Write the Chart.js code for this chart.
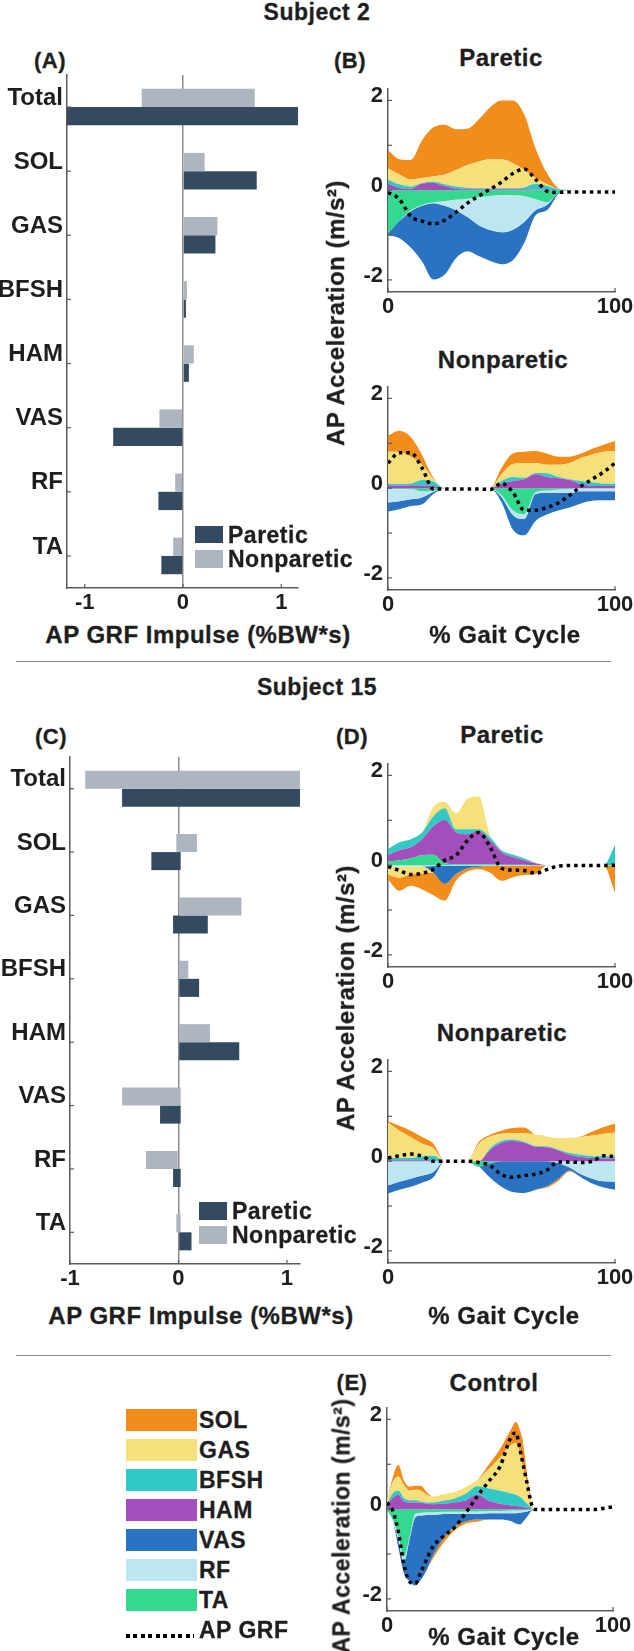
<!DOCTYPE html>
<html>
<head>
<meta charset="utf-8">
<script src="https://cdn.jsdelivr.net/npm/chart.js@4.4.1/dist/chart.umd.min.js"></script>
<style>
  body { margin: 0; background: #fff; }
  #page { position: relative; width: 634px; height: 1651px; overflow: hidden;
          font-family: "Liberation Sans", Arial, sans-serif; font-weight: bold; color: #1e1e1e; }
  #page canvas { position: absolute; }
  .t, .v, .l { position: absolute; white-space: nowrap; letter-spacing: 0.5px; -webkit-text-stroke: 0.3px #1e1e1e; }
  .t { transform: translate(-50%, -50%); }
  .v { transform: translate(-50%, -50%) rotate(-90deg); }
  .l { transform: translateY(-50%); }
  .sep { position: absolute; height: 0; border-top: 1.5px solid #8c8c8c; }
  .sw { position: absolute; }
</style>
</head>
<body>
<div id="page"></div>
<script>
// ---------- data ----------
// horizontal bars: AP GRF impulse (%BW*s), each bar is [low, high]
const barCats = ['Total', 'SOL', 'GAS', 'BFSH', 'HAM', 'VAS', 'RF', 'TA'];
const s2ParLo  = [-1.18, 0, 0, 0, 0, -0.71, -0.25, -0.22];
const s2ParHi  = [1.17, 0.75, 0.33, 0.03, 0.06, 0, 0, 0];
const s2NonLo  = [-0.42, 0, 0, 0, 0, -0.24, -0.08, -0.10];
const s2NonHi  = [0.73, 0.22, 0.35, 0.04, 0.11, 0, 0, 0];
const s15ParLo = [-0.52, -0.25, -0.05, 0, 0, -0.17, -0.05, 0];
const s15ParHi = [1.12, 0.02, 0.27, 0.19, 0.56, 0.02, 0.02, 0.12];
const s15NonLo = [-0.86, -0.02, 0, 0, 0, -0.52, -0.30, -0.02];
const s15NonHi = [1.12, 0.17, 0.58, 0.09, 0.29, 0.02, 0, 0.02];

// stacked areas: AP acceleration (m/s^2) vs % gait cycle
const gait  = [0, 5, 10, 15, 20, 25, 30, 35, 40, 45, 50, 55, 60, 65, 70, 75, 80, 85, 90, 95, 100];
const ctrlX = [0, 2.5, 5, 7.5, 10, 12.5, 15, 17.5, 20, 25, 30, 35, 40, 45, 50, 55, 57, 59, 60, 62, 64, 65, 70, 80, 90, 100];

// Subject 2 paretic
const s2pSOL  = [.40,.34,.43,.84,1.09,1.11,.91,.81,.94,1.16,1.31,1.40,1.24,.66,.25,.02,0,0,0,0,0];
const s2pGAS  = [.25,.22,.16,.11,.12,.22,.37,.51,.60,.65,.65,.56,.39,.13,.03,.01,0,0,0,0,0];
const s2pBFSH = [.09,.08,.05,.01,.03,.04,.05,.03,.02,.02,.02,.02,.04,.13,.09,.02,0,0,0,0,0];
const s2pHAM  = [.15,.05,.03,.15,.16,.09,.03,.02,.02,.02,.02,.02,.02,.01,.01,0,0,0,0,0,0];
const s2pVAS  = [-.04,-.38,-.81,-1.24,-1.70,-1.53,-1.06,-.76,-.69,-.69,-.71,-.68,-.47,-.11,-.12,-.02,0,0,0,0,0];
const s2pRF   = [0,0,-.02,-.02,-.02,-.11,-.24,-.41,-.63,-.76,-.83,-.77,-.58,-.25,-.06,0,0,0,0,0,0];
const s2pTA   = [-.96,-.69,-.45,-.33,-.27,-.24,-.21,-.19,-.15,-.13,-.11,-.11,-.13,-.20,-.27,-.07,0,0,0,0,0];
const s2pGRF  = [-.05,-.20,-.58,-.69,-.75,-.67,-.49,-.29,-.13,.02,.18,.37,.47,.24,-.02,-.05,-.04,-.04,-.04,-.04,-.04];

// Subject 2 nonparetic
const s2nSOL  = [.36,.47,.44,.22,.03,0,0,0,0,0,.14,.23,.25,.27,.25,.18,.14,.10,.13,.16,.22];
const s2nGAS  = [.71,.72,.60,.34,.05,0,0,0,0,0,.15,.29,.33,.22,.19,.27,.36,.51,.62,.71,.73];
const s2nBFSH = [.04,.03,.04,.12,.10,0,0,0,0,0,.06,.09,.03,.03,.08,.03,.02,.07,.08,.05,.05];
const s2nHAM  = [.06,.06,.06,.06,.05,0,0,0,0,0,.10,.16,.20,.31,.25,.22,.18,.09,.05,.05,.05];
const s2nVAS  = [-.20,-.18,-.15,-.15,-.05,0,0,0,0,0,-.11,-.32,-.36,-.60,-.49,-.40,-.32,-.27,-.21,-.20,-.20];
const s2nRF   = [-.30,-.27,-.23,-.14,-.03,0,0,0,0,0,-.04,-.11,-.11,-.04,-.05,-.07,-.09,-.07,-.07,-.07,-.07];
const s2nTA   = [-.02,-.02,-.02,-.07,-.05,0,0,0,0,0,-.16,-.49,-.58,-.09,-.05,-.03,-.02,0,0,0,0];
const s2nGRF  = [.56,.79,.79,.45,-.02,-.02,-.02,-.02,-.02,-.03,.11,-.09,-.49,-.49,-.43,-.33,-.16,.04,.20,.36,.56];

// Subject 15 paretic
const s15pSOL  = [-.11,-.29,-.25,-.36,-.50,-.37,-.14,-.07,-.05,-.15,-.33,-.25,-.20,-.18,0,0,0,0,0,0,-.60];
const s15pGAS  = [-.18,-.25,-.18,-.15,.21,.14,.36,.68,.73,.04,0,.02,.01,.01,0,0,0,0,0,0,0];
const s15pBFSH = [.14,.18,.18,.15,.22,.26,.07,.11,.04,.07,.04,.05,.04,.01,0,0,0,0,0,0,.45];
const s15pHAM  = [.14,.22,.25,.36,.64,.97,.71,.67,.74,.53,.28,.17,.10,.04,0,0,0,0,0,0,0];
const s15pVAS  = [0,0,0,0,-.15,-.40,-.18,-.05,-.02,0,0,0,0,0,0,0,0,0,0,0,0];
const s15pRF   = [-.03,-.03,-.03,-.03,-.02,-.02,-.02,-.02,-.02,-.02,-.02,-.02,-.02,-.02,-.01,-.01,-.01,-.01,-.01,-.01,-.01];
const s15pTA   = [.08,.11,.15,.22,.23,.04,.02,.02,.02,.02,.01,.01,.01,0,0,0,0,0,0,0,0];
const s15pGRF  = [-.03,-.12,-.21,-.18,-.09,.11,.22,.55,.73,.40,-.07,-.11,-.12,-.18,-.10,-.02,-.01,-.01,-.01,-.01,0];

// Subject 15 nonparetic
const s15nSOL  = [.03,.11,.14,.15,.10,0,0,0,.04,.04,.07,.12,.13,0,-.03,-.04,-.02,.01,.09,.15,.20];
const s15nGAS  = [.79,.61,.47,.28,.17,0,0,0,.39,.26,.16,.14,.19,.25,.22,.25,.34,.40,.46,.50,.53];
const s15nBFSH = [.05,.05,.05,.09,.10,0,0,0,0,.04,.04,.03,.02,.02,.02,.02,.04,.05,.04,.05,.05];
const s15nHAM  = [.02,.02,.02,.02,.02,0,0,0,0,.25,.41,.45,.41,.32,.31,.24,.14,.09,.07,.06,.06];
const s15nVAS  = [-.18,-.18,-.18,-.16,-.12,0,0,0,0,-.32,-.57,-.69,-.71,-.64,-.56,-.36,-.07,-.07,-.11,-.14,-.18];
const s15nRF   = [-.54,-.46,-.39,-.32,-.24,0,0,0,0,0,0,0,0,0,0,-.04,-.14,-.29,-.39,-.45,-.46];
const s15nTA   = [0,0,0,0,0,0,0,0,-.12,-.05,0,0,0,0,0,0,0,0,0,0,0];
const s15nGRF  = [.07,.12,.16,.11,0,0,0,0,-.03,-.10,-.30,-.36,-.32,-.29,-.20,-.02,-.02,-.03,0,.12,.10];

// Control (on ctrlX)
const ctrlSOL  = [0,.10,.26,.10,.09,.09,.11,.06,-.06,-.10,-.08,-.05,-.05,.10,.19,.35,.47,.53,.58,.23,.03,0,0,0,0,0];
const ctrlGAS  = [.07,.25,.32,.29,.21,.23,.24,.17,.13,.14,.14,.15,.14,.43,.74,1.09,1.15,.93,.74,.42,.06,0,0,0,0,0];
const ctrlBFSH = [.03,.10,.09,.08,.05,.05,.03,.03,.04,.07,.09,.15,.19,.27,.29,.27,.25,.21,.17,.09,.02,0,0,0,0,0];
const ctrlHAM  = [.09,.25,.32,.17,.15,.15,.14,.12,.11,.12,.15,.20,.32,.19,.12,.08,.07,.06,.05,.03,.01,0,0,0,0,0];
const ctrlVAS  = [0,0,-.16,-.26,-.94,-1.52,-1.43,-1.23,-.94,-.54,-.28,-.17,-.13,-.14,-.14,-.18,-.23,-.26,-.22,-.12,-.01,0,0,0,0,0];
const ctrlRF   = [0,-.02,-.10,-.10,-.05,-.08,-.06,-.06,-.06,-.05,-.05,-.05,-.05,-.05,-.05,-.06,-.06,-.05,-.04,-.03,-.01,0,0,0,0,0];
const ctrlTA   = [-.02,-.23,-.59,-1.07,-.62,-.10,-.08,-.07,-.07,-.06,-.06,-.05,-.05,-.04,-.04,-.03,-.03,-.03,-.03,-.02,-.01,0,0,0,0,0];
const ctrlGRF  = [.15,-.03,-.50,-1.23,-1.62,-1.66,-1.40,-1.12,-.86,-.60,-.40,-.07,.29,.62,.95,1.62,1.70,1.29,1.05,.57,.10,0,-.01,-.01,-.01,.05];

// ---------- styles ----------
const stackOrder = ['TA', 'RF', 'VAS', 'HAM', 'BFSH', 'GAS', 'SOL']; // from zero outward
const legendOrder = ['SOL', 'GAS', 'BFSH', 'HAM', 'VAS', 'RF', 'TA'];
const muscleColor = {
  SOL: '#F28C1B', GAS: '#F6E07C', BFSH: '#32C8C6', HAM: '#A34FBB',
  VAS: '#2A72C2', RF: '#BCE6F0', TA: '#32D98E'
};
const parColor = '#344A60';
const nonColor = '#ADB6C0';
const axisColor = '#5a5a5a';
const textColor = '#1e1e1e';

Chart.defaults.font.family = '"Liberation Sans", Arial, sans-serif';
Chart.defaults.font.weight = 'bold';
Chart.defaults.font.size = 22;
Chart.defaults.color = textColor;

const page = document.getElementById('page');

// small inward tick marks on both axes
const inTicks = {
  id: 'inTicks',
  afterDraw(chart) {
    const { ctx, chartArea: a } = chart;
    ctx.save();
    ctx.strokeStyle = axisColor;
    ctx.lineWidth = 1.2;
    ['x', 'y'].forEach(id => {
      const s = chart.scales[id];
      s.ticks.forEach((t, i) => {
        const p = s.getPixelForTick(i);
        ctx.beginPath();
        if (id === 'x') { ctx.moveTo(p, a.bottom); ctx.lineTo(p, a.bottom - 4); }
        else { ctx.moveTo(a.left, p); ctx.lineTo(a.left + 4, p); }
        ctx.stroke();
      });
    });
    ctx.restore();
  }
};

function canvasAt(left, top, w, h) {
  const c = document.createElement('canvas');
  c.width = w; c.height = h;
  c.style.left = left + 'px'; c.style.top = top + 'px';
  page.appendChild(c);
  return c;
}

function text(str, x, y, size, cls) {
  const d = document.createElement('div');
  d.className = cls || 't';
  d.style.left = x + 'px'; d.style.top = y + 'px'; d.style.fontSize = size + 'px';
  d.textContent = str;
  page.appendChild(d);
  return d;
}

function box(x, y, w, h, color) {
  const d = document.createElement('div');
  d.className = 'sw';
  d.style.left = x + 'px'; d.style.top = y + 'px';
  d.style.width = w + 'px'; d.style.height = h + 'px';
  d.style.background = color;
  page.appendChild(d);
  return d;
}

function separator(y) {
  const d = document.createElement('div');
  d.className = 'sep';
  d.style.left = '16px'; d.style.top = y + 'px'; d.style.width = '595px';
  page.appendChild(d);
}

function pairs(lo, hi) { return lo.map((v, i) => [v, hi[i]]); }

function barChart(canvas, parLo, parHi, nonLo, nonHi, xmin, xmax, yWidth) {
  return new Chart(canvas, {
    type: 'bar',
    data: {
      labels: barCats,
      datasets: [
        { label: 'Nonparetic', data: pairs(nonLo, nonHi), backgroundColor: nonColor },
        { label: 'Paretic', data: pairs(parLo, parHi), backgroundColor: parColor }
      ]
    },
    options: {
      indexAxis: 'y',
      responsive: false,
      animation: false,
      events: [],
      layout: { padding: { top: 20, right: 22, left: 0, bottom: 0 } },
      datasets: { bar: { barPercentage: 1, categoryPercentage: 0.57 } },
      plugins: { legend: { display: false }, tooltip: { enabled: false } },
      scales: {
        x: {
          min: xmin, max: xmax,
          ticks: { stepSize: 1, includeBounds: false, padding: 2, font: { size: 22 } },
          grid: {
            drawTicks: false, lineWidth: 1.5,
            color: c => (c.tick && c.tick.value === 0 ? '#8c8c8c' : 'rgba(0,0,0,0)')
          },
          border: { color: axisColor, width: 1.5 },
          afterFit: s => { s.height = 30; }
        },
        y: {
          ticks: { padding: 4, labelOffset: -9, font: { size: 24 } },
          grid: { display: false, drawTicks: false },
          border: { color: axisColor, width: 1.5 },
          afterFit: s => { s.width = yWidth; }
        }
      }
    },
    plugins: [inTicks]
  });
}

function areaChart(canvas, xs, series, grf) {
  const datasets = [{
    label: 'AP GRF',
    data: xs.map((x, i) => ({ x, y: grf[i] })),
    stack: 'grf',
    borderColor: '#000', borderWidth: 3.5, borderDash: [3.5, 4],
    pointRadius: 0, fill: false, cubicInterpolationMode: 'monotone'
  }];
  ['pos', 'neg'].forEach(side => {
    stackOrder.forEach((m, k) => {
      const vals = series[m];
      datasets.push({
        label: m,
        data: xs.map((x, i) => ({ x, y: side === 'pos' ? Math.max(vals[i], 0) : Math.min(vals[i], 0) })),
        stack: side,
        backgroundColor: muscleColor[m],
        borderColor: 'rgba(0,0,0,0)', borderWidth: 0,
        pointRadius: 0,
        fill: k === 0 ? 'origin' : '-1',
        cubicInterpolationMode: 'monotone'
      });
    });
  });
  return new Chart(canvas, {
    type: 'line',
    data: { datasets },
    options: {
      responsive: false,
      animation: false,
      events: [],
      layout: { padding: { top: 14, right: 24, left: 0, bottom: 0 } },
      plugins: { legend: { display: false }, tooltip: { enabled: false } },
      scales: {
        x: {
          type: 'linear', min: 0, max: 100,
          ticks: { stepSize: 100, padding: 2, maxRotation: 0, font: { size: 22 } },
          grid: { display: false, drawTicks: false },
          border: { color: axisColor, width: 1.5 },
          afterFit: s => { s.height = 30; }
        },
        y: {
          stacked: true, min: -2.27, max: 2.25,
          ticks: {
            stepSize: 1, includeBounds: false, autoSkip: false, padding: 5, labelOffset: -4,
            font: { size: 22 },
            callback: v => (v % 2 === 0 ? String(v) : '')
          },
          grid: { display: false, drawTicks: false },
          border: { color: axisColor, width: 1.5 },
          afterFit: s => { s.width = 42; }
        }
      }
    },
    plugins: [inTicks]
  });
}

// ---------- Subject 2 ----------
text('Subject 2', 317, 12, 23);
text('(A)', 50, 61, 22);
text('(B)', 350, 61, 22);

barChart(canvasAt(0, 55, 320, 563), s2ParLo, s2ParHi, s2NonLo, s2NonHi, -1.18, 1.17, 67);
box(195, 526, 28, 17, parColor);
box(195, 550, 28, 18, nonColor);
text('Paretic', 228, 535, 23, 'l');
text('Nonparetic', 228, 559, 23, 'l');
text('AP GRF Impulse (%BW*s)', 198, 635, 24);

text('Paretic', 501, 58, 24);
areaChart(canvasAt(346, 71, 293, 251), gait,
  { SOL: s2pSOL, GAS: s2pGAS, BFSH: s2pBFSH, HAM: s2pHAM, VAS: s2pVAS, RF: s2pRF, TA: s2pTA }, s2pGRF);
text('Nonparetic', 503, 360, 24);
areaChart(canvasAt(346, 369, 293, 251), gait,
  { SOL: s2nSOL, GAS: s2nGAS, BFSH: s2nBFSH, HAM: s2nHAM, VAS: s2nVAS, RF: s2nRF, TA: s2nTA }, s2nGRF);
text('AP Acceleration (m/s²)', 336, 313, 24, 'v');
text('% Gait Cycle', 505, 635, 24);

separator(661);

// ---------- Subject 15 ----------
text('Subject 15', 317, 687, 23);
text('(C)', 51, 737, 22);
text('(D)', 352, 737, 22);

barChart(canvasAt(0, 737, 322, 557), s15ParLo, s15ParHi, s15NonLo, s15NonHi, -1, 1.12, 70);
box(199, 1202, 28, 18, parColor);
box(199, 1226, 28, 18, nonColor);
text('Paretic', 232, 1211, 23, 'l');
text('Nonparetic', 232, 1235, 23, 'l');
text('AP GRF Impulse (%BW*s)', 201, 1316, 24);

text('Paretic', 502, 735, 24);
areaChart(canvasAt(346, 746, 293, 251), gait,
  { SOL: s15pSOL, GAS: s15pGAS, BFSH: s15pBFSH, HAM: s15pHAM, VAS: s15pVAS, RF: s15pRF, TA: s15pTA }, s15pGRF);
text('Nonparetic', 502, 1033, 24);
areaChart(canvasAt(346, 1042, 293, 251), gait,
  { SOL: s15nSOL, GAS: s15nGAS, BFSH: s15nBFSH, HAM: s15nHAM, VAS: s15nVAS, RF: s15nRF, TA: s15nTA }, s15nGRF);
text('AP Acceleration (m/s²)', 346, 998, 24, 'v');
text('% Gait Cycle', 504, 1316, 24);

separator(1355);

// ---------- Control ----------
text('(E)', 352, 1383, 22);
text('Control', 494, 1383, 24);
areaChart(canvasAt(345, 1390, 292, 251), ctrlX,
  { SOL: ctrlSOL, GAS: ctrlGAS, BFSH: ctrlBFSH, HAM: ctrlHAM, VAS: ctrlVAS, RF: ctrlRF, TA: ctrlTA }, ctrlGRF);
text('AP Acceleration (m/s²)', 342, 1526, 23, 'v');
text('% Gait Cycle', 504, 1637, 24);

// muscle legend
legendOrder.forEach((m, i) => {
  const mid = 1420 + i * 30;
  box(126, mid - 11, 71, 22, muscleColor[m]);
  text(m, 199, mid, 23, 'l');
});
box(126, 1634, 68, 4, 'repeating-linear-gradient(90deg, #000 0 4px, rgba(0,0,0,0) 4px 7.5px)');
text('AP GRF', 199, 1630, 23, 'l');
</script>
</body>
</html>
